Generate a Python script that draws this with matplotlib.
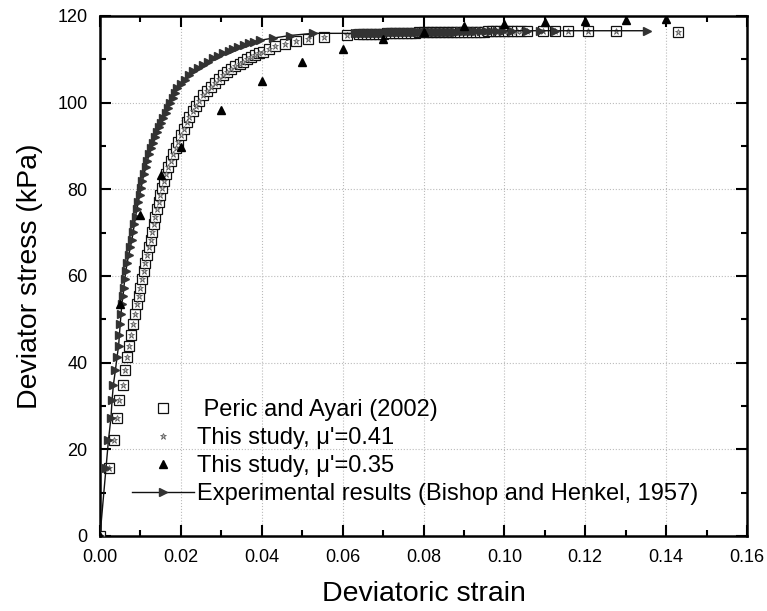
import matplotlib
matplotlib.use("Agg")
import matplotlib.pyplot as plt
from matplotlib.ticker import MultipleLocator, FormatStrFormatter

plt.rcParams['font.family'] = ['Liberation Sans', 'DejaVu Sans']

# Experimental results (Bishop and Henkel, 1957)
exp_strain = [0.0, 0.0015, 0.0021, 0.0027, 0.0030, 0.0033, 0.0038, 0.0042, 0.0046, 0.0048, 0.0050, 0.0052, 0.0054,
              0.0057, 0.0059, 0.0061, 0.0064, 0.0067, 0.0071, 0.0075, 0.0079, 0.0082, 0.0085, 0.0088, 0.0091, 0.0095,
              0.0098, 0.0102, 0.0105, 0.0109, 0.0113, 0.0117, 0.0122, 0.0127,
              0.0132, 0.0137, 0.0142, 0.0147, 0.0152, 0.0157, 0.0162, 0.0168, 0.0174, 0.0180, 0.0185, 0.0190,
              0.0200, 0.0210, 0.0220, 0.0231, 0.0243, 0.0255, 0.0268, 0.0280, 0.0292, 0.0305, 0.0318, 0.0330,
              0.0342, 0.0355, 0.0368, 0.0380,
              0.0396, 0.0428, 0.0470, 0.0527,
              0.0630, 0.0635, 0.0640, 0.0645, 0.0650, 0.0655, 0.0660, 0.0665, 0.0670, 0.0675,
              0.0680, 0.0685, 0.0690, 0.0695, 0.0700, 0.0705, 0.0710, 0.0715, 0.0720, 0.0725,
              0.0730, 0.0735, 0.0740, 0.0745, 0.0750, 0.0755, 0.0760, 0.0765, 0.0770, 0.0775,
              0.0780, 0.0785, 0.0790, 0.0795, 0.0800, 0.0805, 0.0810, 0.0815, 0.0820, 0.0825,
              0.0830, 0.0835, 0.0840, 0.0845, 0.0850, 0.0855, 0.0860, 0.0865, 0.0870, 0.0875, 0.0880,
              0.0890, 0.0900, 0.0910, 0.0920, 0.0930, 0.0942, 0.0955, 0.0968, 0.0982, 0.0996,
              0.1020, 0.1056, 0.1088, 0.1125, 0.1352]
exp_stress = [0.0, 15.8, 22.2, 27.2, 31.5, 34.8, 38.2, 41.2, 43.9, 46.5, 48.9, 51.2, 53.5,
              55.4, 57.3, 59.2, 61.1, 63.0, 64.8, 66.6, 68.4, 70.2, 72.0, 73.7, 75.4, 77.1,
              78.8, 80.4, 82.0, 83.6, 85.1, 86.6, 88.1, 89.5,
              90.8, 92.0, 93.2, 94.3, 95.4, 96.4, 97.6, 98.8, 100.0, 101.1, 102.2, 103.3,
              104.3, 105.3, 106.3, 107.2, 108.0, 108.8, 109.5, 110.2, 110.8, 111.4, 112.0, 112.5,
              112.9, 113.3, 113.7, 114.1,
              114.4, 114.9, 115.5, 116.0,
              116.0, 116.0, 116.0, 116.0, 116.0, 116.0, 116.0, 116.0, 116.1, 116.1,
              116.1, 116.1, 116.1, 116.1, 116.1, 116.1, 116.2, 116.2, 116.2, 116.2,
              116.2, 116.2, 116.2, 116.2, 116.2, 116.2, 116.3, 116.3, 116.3, 116.3,
              116.3, 116.3, 116.3, 116.3, 116.3, 116.3, 116.3, 116.3, 116.4, 116.4,
              116.4, 116.4, 116.4, 116.4, 116.4, 116.4, 116.4, 116.4, 116.4, 116.4, 116.4,
              116.5, 116.5, 116.5, 116.5, 116.5, 116.5, 116.5, 116.6, 116.6, 116.6,
              116.6, 116.6, 116.6, 116.6, 116.6]

# Peric and Ayari (2002)
peric_strain = [0.0, 0.0022, 0.0035, 0.0043, 0.0047, 0.0057, 0.0062, 0.0066, 0.0071, 0.0077, 0.0082, 0.0086, 0.0091,
                0.0096, 0.0100, 0.0104, 0.0108, 0.0112, 0.0116, 0.0120, 0.0125, 0.0129, 0.0133, 0.0137, 0.0141,
                0.0145, 0.0149, 0.0153, 0.0158, 0.0163, 0.0169, 0.0175, 0.0181, 0.0188,
                0.0194, 0.0200, 0.0207, 0.0214, 0.0221, 0.0229, 0.0238, 0.0246, 0.0255, 0.0264, 0.0274, 0.0284,
                0.0294, 0.0305, 0.0315, 0.0325, 0.0335, 0.0345, 0.0354, 0.0364, 0.0374, 0.0384, 0.0394, 0.0404,
                0.0418, 0.0433, 0.0457, 0.0485, 0.0515, 0.0554, 0.0610,
                0.0640, 0.0650, 0.0660, 0.0670, 0.0680, 0.0690, 0.0700, 0.0710, 0.0720, 0.0730, 0.0740, 0.0750,
                0.0760, 0.0770, 0.0780, 0.0790, 0.0800, 0.0810, 0.0820, 0.0830, 0.0840, 0.0850, 0.0860, 0.0870,
                0.0880, 0.0890, 0.0900, 0.0910, 0.0920, 0.0930, 0.0940, 0.0950, 0.0960, 0.0970, 0.0980, 0.0990,
                0.1000, 0.1010, 0.1020, 0.1030, 0.1040,
                0.1055, 0.1096, 0.1125, 0.1158, 0.1207, 0.1277, 0.1430]
peric_stress = [0.0, 15.8, 22.2, 27.2, 31.5, 34.8, 38.2, 41.2, 43.9, 46.5, 48.9, 51.2, 53.5,
                55.4, 57.3, 59.2, 61.1, 63.0, 64.8, 66.6, 68.4, 70.2, 72.0, 73.7, 75.4,
                77.1, 78.8, 80.4, 82.0, 83.6, 85.1, 86.6, 88.1, 89.5,
                91.0, 92.5, 94.0, 95.6, 96.8, 98.0, 99.3, 100.5, 101.7, 102.7, 103.7, 104.6,
                105.5, 106.4, 107.1, 107.8, 108.5, 109.0, 109.5, 110.0, 110.5, 111.0, 111.4, 111.8,
                112.4, 113.0, 113.6, 114.2, 114.7, 115.2, 115.7,
                115.8, 115.8, 115.8, 115.9, 115.9, 115.9, 115.9, 116.0, 116.0, 116.0, 116.0, 116.1,
                116.1, 116.1, 116.1, 116.2, 116.2, 116.2, 116.2, 116.2, 116.3, 116.3, 116.3, 116.3,
                116.3, 116.4, 116.4, 116.4, 116.4, 116.4, 116.4, 116.4, 116.5, 116.5, 116.5, 116.5,
                116.5, 116.5, 116.5, 116.5, 116.5,
                116.5, 116.5, 116.5, 116.5, 116.5, 116.5, 116.4]

# This study, mu'=0.41 (coincides with Peric and Ayari)
study041_strain = list(peric_strain)
study041_stress = list(peric_stress)

# This study, mu'=0.35
study035_strain = [0.0, 0.005, 0.010, 0.015, 0.020, 0.030, 0.040, 0.050, 0.060, 0.070, 0.080, 0.090,
                   0.100, 0.110, 0.120, 0.130, 0.140]
study035_stress = [0.0, 53.5, 74.0, 83.3, 89.8, 98.2, 105.1, 109.3, 112.3, 114.7, 116.3, 117.6,
                   118.2, 118.7, 118.9, 119.1, 119.2]

labels = [" Peric and Ayari (2002)", "This study, \u03bc'=0.41", "This study, \u03bc'=0.35",
          "Experimental results (Bishop and Henkel, 1957)"]

fig = plt.figure(figsize=(7.67, 6.11), dpi=100)
ax = fig.add_axes([100 / 767, 75 / 611, 647 / 767, 520 / 611])

h_sq, = ax.plot(peric_strain, peric_stress, linestyle='none', marker='s', markersize=7.2,
                markerfacecolor='white', markeredgecolor='#111111', markeredgewidth=0.9, zorder=3)
h_st, = ax.plot(study041_strain, study041_stress, linestyle='none', marker='*', markersize=4.8,
                markerfacecolor='#bbbbbb', markeredgecolor='#555555', markeredgewidth=0.5, zorder=4)
h_exp, = ax.plot(exp_strain, exp_stress, color='#111111', linewidth=1.0, marker='>', markersize=6.3,
                 markerfacecolor='#333333', markeredgecolor='#333333', zorder=5)
h_tri, = ax.plot(study035_strain, study035_stress, linestyle='none', marker='^', markersize=6.3,
                 markerfacecolor='black', markeredgecolor='black', zorder=6)

ax.set_xlim(0, 0.16)
ax.set_ylim(0, 120)
ax.xaxis.set_major_locator(MultipleLocator(0.02))
ax.xaxis.set_minor_locator(MultipleLocator(0.01))
ax.yaxis.set_major_locator(MultipleLocator(20))
ax.yaxis.set_minor_locator(MultipleLocator(10))
ax.xaxis.set_major_formatter(FormatStrFormatter('%.2f'))
ax.yaxis.set_major_formatter(FormatStrFormatter('%d'))
ax.tick_params(which='both', direction='in', top=True, right=True, width=1.5, labelsize=13)
ax.tick_params(which='major', length=8)
ax.tick_params(axis='x', which='major', pad=9)
ax.tick_params(axis='y', which='major', pad=9)
ax.tick_params(which='minor', length=4)
for s in ax.spines.values():
    s.set_linewidth(1.8)
ax.grid(True, which='major', linestyle=':', color='#bbbbbb', linewidth=0.8)
ax.set_axisbelow(True)

ax.set_xlabel('Deviatoric strain', fontsize=20.5, labelpad=11)
ax.set_ylabel('Deviator stress (kPa)', fontsize=20.5, labelpad=10)

leg = ax.legend([h_sq, h_st, h_tri, h_exp], labels, loc='upper left',
                bbox_to_anchor=(23 / 647, 146 / 520), frameon=False, fontsize=17,
                handlelength=2.6, handletextpad=0.15, labelspacing=0.25, borderaxespad=0, numpoints=1)

fig.savefig('out.png', dpi=100)
